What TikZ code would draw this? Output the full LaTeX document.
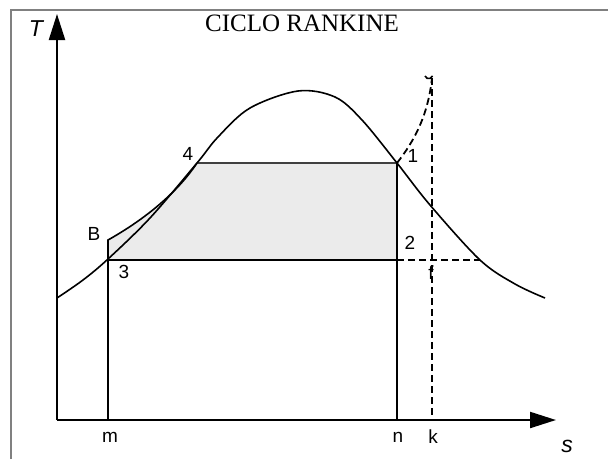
\documentclass[tikz,border=0pt]{standalone}
\usepackage{fontspec}
\setmainfont{Liberation Serif}
\setsansfont{Liberation Sans}
\usetikzlibrary{arrows.meta}
\begin{document}
\begin{tikzpicture}[x=1pt,y=-1pt,
  lbl/.style={font=\sffamily\fontsize{19}{19}\selectfont, inner sep=0pt},
  axis/.style={line width=2.2pt, -{Triangle[length=26pt,width=16pt]}},
  thin line/.style={line width=1.6pt},
  dash line/.style={line width=1.8pt, dash pattern=on 7pt off 4pt}]
\useasboundingbox (0,0) rectangle (608,459);
% frame
\draw[gray, line width=1.8pt] (11,459) -- (11,10) -- (608,10);
% key points
\coordinate (O) at (57,420);
\coordinate (B) at (108,240);
\coordinate (p3) at (108,260);
\coordinate (p4) at (197,163);
\coordinate (p1) at (397,163);
\coordinate (p2) at (397,260);
\coordinate (pf) at (432,260);
\coordinate (pm) at (108,420);
\coordinate (pn) at (397,420);
\coordinate (pk) at (432,420);
\coordinate (top) at (432,78);
\coordinate (dEnd) at (480,260);
\coordinate (ytip) at (57,14);
\coordinate (xtip) at (556,420);
% shaded area
\fill[gray!16] (p3) -- (B) .. controls (140,222) and (175,196) .. (p4) -- (p1) -- (p2) -- cycle;
% cycle lines
\draw[thin line] (p3) -- (B) .. controls (140,222) and (175,196) .. (p4);
\draw[line width=1.8pt, black!75] (p4) -- (p1);
\draw[line width=1.8pt] (p3) -- (p2);
\draw[line width=2pt] (pm) -- (B);
\draw[line width=2pt] (pn) -- (p1);
% saturation dome
\draw[thin line] plot[smooth, tension=0.55] coordinates {(57,298) (83,280) (108,259) (150,218) (197,163) (218,137) (250,108) (298,91) (335,97) (362,120) (397,163) (430,205) (480,260) (515,284) (545,298)};
% dashed lines
\draw[dash line] (p2) -- (dEnd);
\draw[dash line] (top) -- (pk);
\draw[dash line] (p1) .. controls (415,140) and (428,115) .. (top);
\draw[line width=1.6pt] (425,76) arc[start angle=200, end angle=340, radius=4pt];
% axes
\draw[axis] (O) -- (ytip);
\draw[axis] (O) -- (xtip);
% labels
\node[lbl] (l4) at (188,154) {4};
\node[lbl] (l1) at (413,156) {1};
\node[lbl] (lB) at (94,234) {B};
\node[lbl] (l2) at (410,243) {2};
\node[lbl] (l3) at (124,272) {3};
\node[lbl] (lf) at (431,273) {f};
\node[lbl] (lm) at (110,437) {m};
\node[lbl] (ln) at (398,437) {n};
\node[lbl] (lk) at (433,437) {k};
\node[lbl, font=\sffamily\itshape\fontsize{23}{23}\selectfont] (ls) at (567,446) {s};
\node[lbl, font=\sffamily\itshape\fontsize{23}{23}\selectfont] (lT) at (36,29) {T};
\node[inner sep=0pt, font=\fontsize{25}{25}\selectfont] (title) at (302,23) {CICLO RANKINE};
\end{tikzpicture}
\end{document}
